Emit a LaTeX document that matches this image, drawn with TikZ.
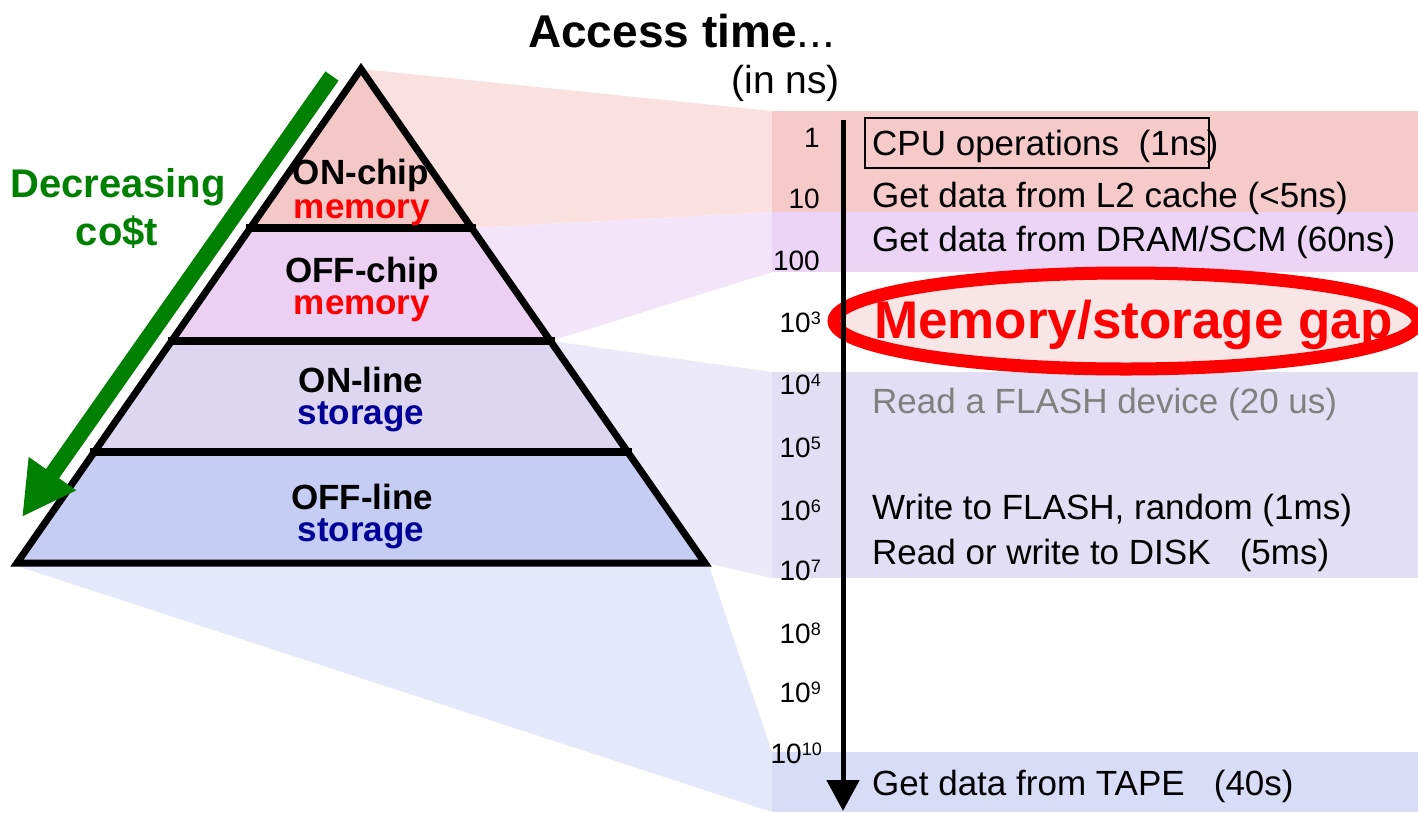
\documentclass[tikz,border=0pt]{standalone}
\usepackage{fontspec}
\setmainfont{Liberation Sans}
\usetikzlibrary{arrows.meta}
\definecolor{pinkwedge}{HTML}{FBE0E0}
\definecolor{pinkband}{HTML}{F7CACA}
\definecolor{violetwedge}{HTML}{F4E4F9}
\definecolor{violetband}{HTML}{EBD4F6}
\definecolor{lavwedge}{HTML}{ECE9F8}
\definecolor{lavband}{HTML}{E2DEF4}
\definecolor{bluewedge}{HTML}{E5E8FA}
\definecolor{blueband}{HTML}{D8DCF7}
\definecolor{layone}{HTML}{F5C8C8}
\definecolor{laytwo}{HTML}{EBD0F3}
\definecolor{laythree}{HTML}{DCD6F1}
\definecolor{layfour}{HTML}{C6CDF4}
\definecolor{ellfill}{HTML}{F8E6E6}
\definecolor{costgreen}{HTML}{008000}
\definecolor{stornavy}{HTML}{000099}
\definecolor{flashgray}{HTML}{808080}
\newcommand{\tsup}[1]{\raisebox{8pt}{\fontsize{18}{18}\selectfont #1}}
\begin{document}
\begin{tikzpicture}[x=1pt,y=-1pt,
  evt/.style={anchor=base west, inner sep=0pt, font=\fontsize{35}{40}\selectfont},
  tick/.style={anchor=base east, inner sep=0pt, font=\fontsize{28}{30}\selectfont},
  laylabel/.style={anchor=base, inner sep=0pt, font=\bfseries\fontsize{35}{40}\selectfont},
  pyredge/.style={line width=7pt, line join=miter},
  divider/.style={line width=8pt},
  costarrow/.style={draw=costgreen, line width=16pt, -{Triangle[length=53pt,width=54pt]}},
  axisarrow/.style={line width=5pt, -{Triangle[length=31pt,width=32pt]}}]

\useasboundingbox[fill=white] (0,0) rectangle (1418,812);

% fans from pyramid layers to the time bands
\fill[pinkwedge] (361,69) -- (772,111) -- (772,212) -- (471.7,228) -- cycle;
\fill[pinkband] (772,111) rectangle (1418,212);
\fill[violetwedge] (471.7,228) -- (772,212) -- (772,272) -- (550.4,341) -- cycle;
\fill[violetband] (772,212) rectangle (1418,272);
\fill[lavwedge] (550.4,341) -- (772,372) -- (772,578) -- (706,563) -- (627.7,452) -- cycle;
\fill[lavband] (772,372) rectangle (1418,578);
\fill[bluewedge] (17,566) -- (708,563) -- (772,752) -- (772,812) -- cycle;
\fill[blueband] (772,752) rectangle (1418,812);

% memory/storage gap ellipse
\draw[red, line width=13pt, fill=ellfill] (1126,321) ellipse [x radius=292pt, y radius=48pt];

% pyramid
\fill[layone] (361,69) -- (471.7,228) -- (250.3,228) -- cycle;
\fill[laytwo] (250.3,228) -- (471.7,228) -- (550.4,341) -- (171.6,341) -- cycle;
\fill[laythree] (171.6,341) -- (550.4,341) -- (627.7,452) -- (94.3,452) -- cycle;
\fill[layfour] (94.3,452) -- (627.7,452) -- (705,563) -- (17,563) -- cycle;
\draw[pyredge] (361,69) -- (705,563) -- (17,563) -- cycle;
\draw[divider] (246,228) -- (476,228);
\draw[divider] (167.5,341) -- (554.5,341);
\draw[divider] (90,452) -- (632,452);

% decreasing cost arrow
\coordinate (gs) at (332,76);
\coordinate (ge) at (22,517);
\draw[costarrow] (gs) -- (ge);

% time axis
\coordinate (ax0) at (843,120);
\coordinate (ax1) at (843,811);
\draw[axisarrow] (ax0) -- (ax1);

% titles
\node[anchor=base west, inner sep=0pt, font=\bfseries\fontsize{46}{50}\selectfont] (title) at (528,47) {Access time\mdseries...};
\node[anchor=base east, inner sep=0pt, font=\fontsize{39}{44}\selectfont] (unit) at (840,93) {(in ns)};

\node[anchor=base, inner sep=0pt, text=costgreen, font=\bfseries\fontsize{40}{48}\selectfont] (dec) at (118,197) {Decreasing};
\node[anchor=base, inner sep=0pt, text=costgreen, font=\bfseries\fontsize{40}{48}\selectfont] (cost) at (117,245) {co\$t};

% pyramid labels
\node[laylabel] (onchip) at (361,184) {ON-chip};
\node[laylabel, text=red] (memone) at (362,218) {memory};
\node[laylabel] (offchip) at (362,282) {OFF-chip};
\node[laylabel, text=red] (memtwo) at (362,314) {memory};
\node[laylabel] (online) at (361,392) {ON-line};
\node[laylabel, text=stornavy] (storone) at (361,424) {storage};
\node[laylabel] (offline) at (362,509) {OFF-line};
\node[laylabel, text=stornavy] (stortwo) at (361,541) {storage};

% tick labels
\node[tick] (t0) at (820,147) {1};
\node[tick] (t1) at (820,208) {10};
\node[tick] (t2) at (820,270) {100};
\node[tick] (t3) at (821,332) {10\tsup{3}};
\node[tick] (t4) at (821,394) {10\tsup{4}};
\node[tick] (t5) at (821,457) {10\tsup{5}};
\node[tick] (t6) at (821,520) {10\tsup{6}};
\node[tick] (t7) at (821,580) {10\tsup{7}};
\node[tick] (t8) at (821,643) {10\tsup{8}};
\node[tick] (t9) at (821,702) {10\tsup{9}};
\node[tick] (t10) at (822,763) {10\tsup{10}};

% events
\node[evt] (cpu) at (872,155) {CPU operations\ \ (1ns)};
\draw[line width=2.5pt] (865,118) rectangle (1209,168);
\node[evt] (ltwo) at (872,207) {Get data from L2 cache (<5ns)};
\node[evt] (dram) at (872,251) {Get data from DRAM/SCM (60ns)};
\node[anchor=base west, inner sep=0pt, text=red, font=\bfseries\fontsize{53}{56}\selectfont] (gap) at (874,338) {Memory/storage gap};
\node[evt, text=flashgray] (rflash) at (872,413) {Read a FLASH device (20 us)};
\node[evt] (wflash) at (872,519) {Write to FLASH, random (1ms)};
\node[evt] (disk) at (872,564) {Read or write to DISK\ \ \ (5ms)};
\node[evt] (tape) at (872,795) {Get data from TAPE\ \ \ (40s)};
\end{tikzpicture}
\end{document}
